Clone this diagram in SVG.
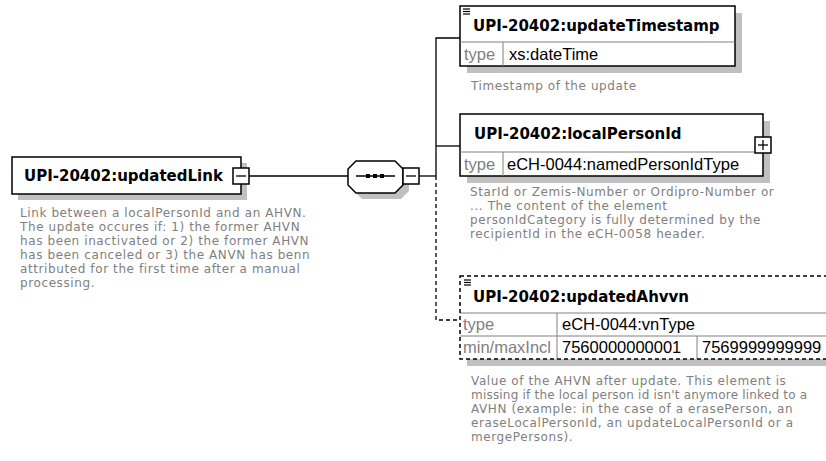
<svg xmlns="http://www.w3.org/2000/svg" width="826" height="461" viewBox="0 0 826 461">
<style>
.bg{fill:#ffffff}
.shadow{fill:#c0c0c0}
.box{fill:#ffffff;stroke:#000000;stroke-width:1.5}
.dbox{fill:none;stroke:#000000;stroke-width:1.5;stroke-dasharray:4,3}
.grid{stroke:#808080;stroke-width:1;fill:none}
.conn{stroke:#000000;stroke-width:1.3;fill:none}
.dconn{stroke:#000000;stroke-width:1.3;fill:none;stroke-dasharray:4,3}
.name{font-family:"DejaVu Sans",sans-serif;font-weight:bold;font-size:15px;fill:#000000}
.lbl{font-family:"Liberation Sans",Arial,sans-serif;font-size:16.5px;fill:#808080}
.val{font-family:"Liberation Sans",Arial,sans-serif;font-size:16.5px;fill:#000000}
.desc{font-family:"DejaVu Sans",sans-serif;font-size:12px;letter-spacing:0.6px;fill:#808080}
.tight{letter-spacing:0.2px}
.icon{stroke:#000000;stroke-width:1.2}
.sign{stroke:#000000;stroke-width:1.3}
</style>
<rect class="bg" x="0" y="0" width="826" height="461"/>

<g id="connectors">
  <line class="conn" x1="249" y1="176" x2="348" y2="176"/>
  <line class="conn" x1="419" y1="176" x2="436" y2="176"/>
  <polyline class="conn" points="460,38 436,38 436,176"/>
  <line class="conn" x1="436" y1="146" x2="460" y2="146"/>
  <polyline class="dconn" points="436,176 436,320 460,320"/>
</g>

<g id="updatedLink">
  <rect class="shadow" x="18" y="163" width="229" height="37"/>
  <rect class="box" x="12" y="157" width="229" height="37"/>
  <text class="name" x="24" y="181">UPI-20402:updatedLink</text>
  <rect class="box" x="233" y="168" width="16" height="16"/>
  <line class="sign" x1="236" y1="176" x2="246" y2="176"/>
  <text class="desc" x="20" y="217">Link between a localPersonId and an AHVN.</text>
  <text class="desc" x="20" y="231">The update occures if: 1) the former AHVN</text>
  <text class="desc" x="20" y="245">has been inactivated or 2) the former AHVN</text>
  <text class="desc" x="20" y="259">has been canceled or 3) the ANVN has benn</text>
  <text class="desc" x="20" y="273">attributed for the first time after a manual</text>
  <text class="desc" x="20" y="287">processing.</text>
</g>

<g id="sequence">
  <polygon class="shadow" points="362,167 401,167 409,175 409,191 401,199 362,199 354,191 354,175"/>
  <polygon class="box" points="356,161 395,161 403,169 403,185 395,193 356,193 348,185 348,169"/>
  <line class="conn" x1="356" y1="176" x2="395" y2="176"/>
  <rect x="366" y="174" width="4" height="4" fill="#000000"/>
  <rect x="373" y="174" width="4" height="4" fill="#000000"/>
  <rect x="380" y="174" width="4" height="4" fill="#000000"/>
  <rect class="box" x="403" y="168" width="16" height="16"/>
  <line class="sign" x1="406" y1="176" x2="416" y2="176"/>
</g>

<g id="updateTimestamp">
  <rect class="shadow" x="467" y="13" width="275" height="60"/>
  <rect class="box" x="460" y="6" width="275" height="60"/>
  <line class="grid" x1="460" y1="42" x2="735" y2="42"/>
  <line class="grid" x1="503" y1="42" x2="503" y2="66"/>
  <line class="icon" x1="463" y1="9" x2="470" y2="9"/>
  <line class="icon" x1="463" y1="11.5" x2="470" y2="11.5"/>
  <line class="icon" x1="463" y1="14" x2="470" y2="14"/>
  <text class="name" x="473" y="31">UPI-20402:updateTimestamp</text>
  <text class="lbl" x="464" y="60">type</text>
  <text class="val" x="509" y="60">xs:dateTime</text>
  <text class="desc" x="471" y="90">Timestamp of the update</text>
</g>

<g id="localPersonId">
  <rect class="shadow" x="467" y="121" width="303" height="62"/>
  <rect class="box" x="460" y="114" width="303" height="62"/>
  <line class="grid" x1="460" y1="152" x2="763" y2="152"/>
  <line class="grid" x1="503" y1="152" x2="503" y2="176"/>
  <text class="name" x="474" y="139">UPI-20402:localPersonId</text>
  <rect class="box" x="755" y="137" width="16" height="16"/>
  <line class="sign" x1="758" y1="145" x2="768" y2="145"/>
  <line class="sign" x1="763" y1="140" x2="763" y2="150"/>
  <text class="lbl" x="464" y="170">type</text>
  <text class="val" x="507" y="170">eCH-0044:namedPersonIdType</text>
  <text class="desc" x="470" y="196">StarId or Zemis-Number or Ordipro-Number or</text>
  <text class="desc" x="470" y="210">... The content of the element</text>
  <text class="desc" x="470" y="224">personIdCategory is fully determined by the</text>
  <text class="desc" x="470" y="238">recipientId in the eCH-0058 header.</text>
</g>

<g id="updatedAhvvn">
  <rect class="shadow" x="467" y="283" width="370" height="83"/>
  <rect x="460" y="276" width="380" height="83" fill="#ffffff"/>
  <line class="grid" x1="460" y1="313" x2="840" y2="313"/>
  <line class="grid" x1="460" y1="336" x2="840" y2="336"/>
  <line class="grid" x1="557" y1="313" x2="557" y2="359"/>
  <line class="grid" x1="697" y1="336" x2="697" y2="359"/>
  <rect class="dbox" x="460" y="276" width="380" height="83"/>
  <line class="icon" x1="464" y1="280" x2="471" y2="280"/>
  <line class="icon" x1="464" y1="282.5" x2="471" y2="282.5"/>
  <line class="icon" x1="464" y1="285" x2="471" y2="285"/>
  <text class="name" x="473" y="302">UPI-20402:updatedAhvvn</text>
  <text class="lbl" x="463" y="330">type</text>
  <text class="val" x="562" y="330">eCH-0044:vnType</text>
  <text class="lbl" x="463" y="353">min/maxIncl</text>
  <text class="val" x="562" y="353">7560000000001</text>
  <text class="val" x="702" y="353">7569999999999</text>
  <text class="desc" x="471" y="385">Value of the AHVN after update. This element is</text>
  <text class="desc tight" x="471" y="399">missing if the local person id isn't anymore linked to a</text>
  <text class="desc" x="471" y="413">AVHN (example: in the case of a erasePerson, an</text>
  <text class="desc" x="471" y="427">eraseLocalPersonId, an updateLocalPersonId or a</text>
  <text class="desc" x="471" y="441">mergePersons).</text>
</g>
</svg>
